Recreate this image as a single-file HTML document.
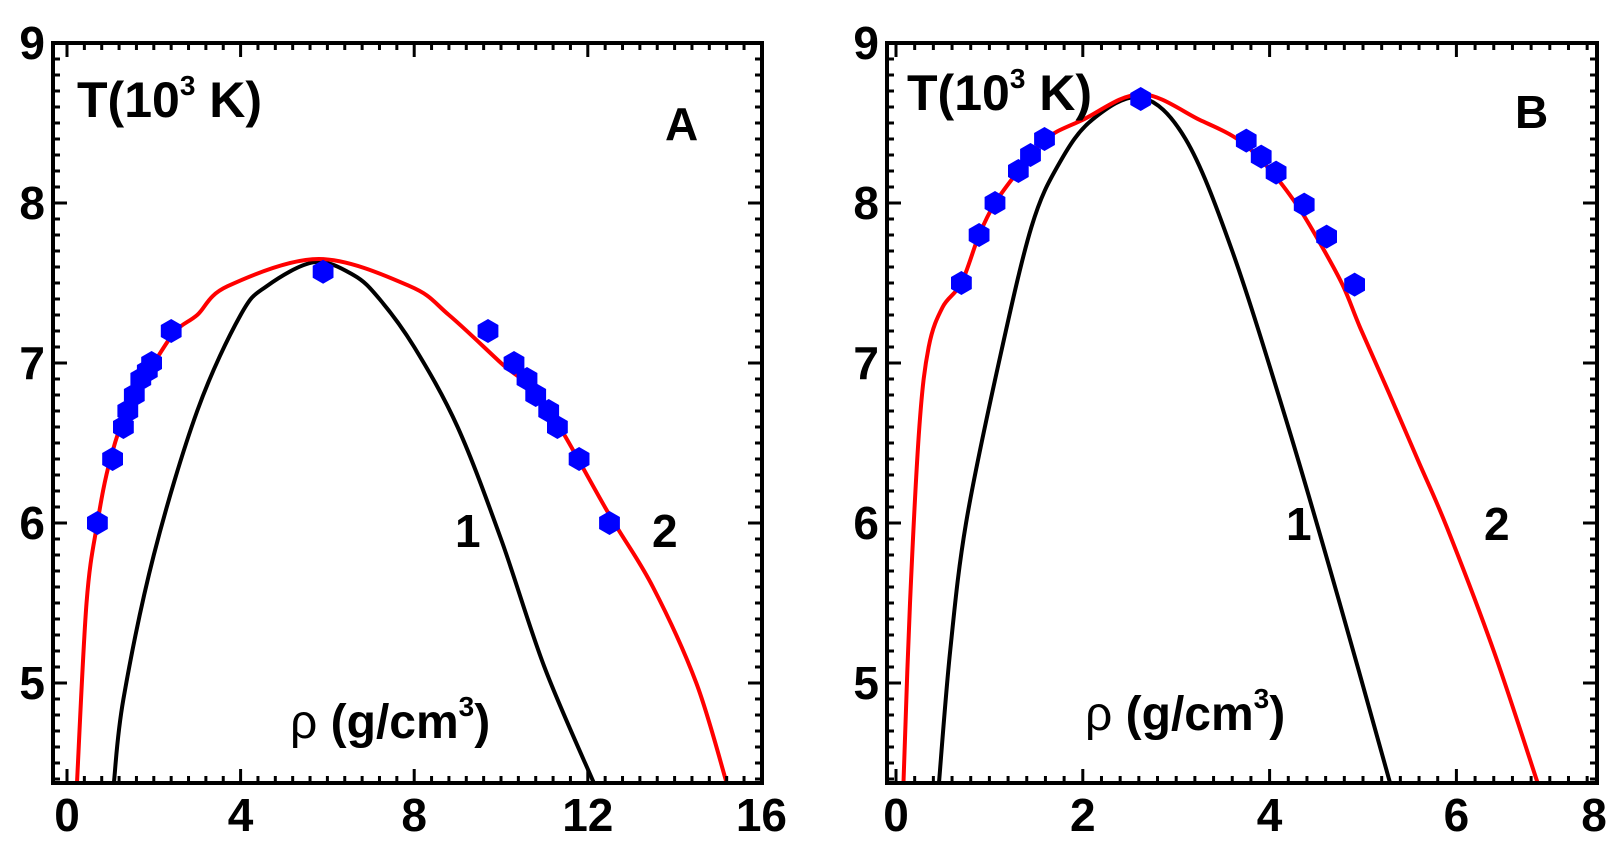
<!DOCTYPE html>
<html><head><meta charset="utf-8"><style>
html,body{margin:0;padding:0;background:#fff;}
svg{display:block;}
text{font-family:"Liberation Sans",Arial,sans-serif;font-weight:bold;fill:#000;}
</style></head><body>
<svg id="s" width="1622" height="854" viewBox="0 0 1622 854" xmlns="http://www.w3.org/2000/svg"></svg>
<script>
const S=document.getElementById('s');let h='';
function Y(v){return 43+(9-v)*160;}
function panel(x0,sc,fl,fr,xmax,minorStep,majorStep,labels,red,black,pts){
  const X=v=>x0+v*sc;
  function path(d){let p=d.map(q=>[X(q[0]),Y(q[1])]);let s='M'+p[0][0]+','+p[0][1];
    for(let i=0;i<p.length-1;i++){const a=p[Math.max(0,i-1)],b=p[i],c=p[i+1],e=p[Math.min(p.length-1,i+2)];
      s+=' C'+(b[0]+(c[0]-a[0])/6)+','+(b[1]+(c[1]-a[1])/6)+' '+(c[0]-(e[0]-b[0])/6)+','+(c[1]-(e[1]-b[1])/6)+' '+c[0]+','+c[1];}
    return s;}
  h+=`<clipPath id="c${x0}"><rect x="${fl}" y="43" width="${fr-fl}" height="740"/></clipPath>`;
  h+=`<g clip-path="url(#c${x0})"><path d="${path(black)}" fill="none" stroke="#000" stroke-width="4"/>`;
  h+=`<path d="${path(red)}" fill="none" stroke="#f00" stroke-width="4"/></g>`;
  for(const p of pts){const cx=X(p[0]),cy=Y(p[1]),r=12;let q=[];for(let k=0;k<6;k++){const a=Math.PI/3*k-Math.PI/2;q.push((cx+r*Math.cos(a)).toFixed(1)+','+(cy+r*Math.sin(a)).toFixed(1));}
    h+=`<polygon points="${q.join(' ')}" fill="#00f"/>`;}
  h+=`<rect x="${fl}" y="43" width="${fr-fl}" height="740" fill="none" stroke="#000" stroke-width="4"/>`;
  for(let v=-minorStep*Math.floor((x0-fl)/(sc*minorStep));v<=xmax+1e-6;v+=minorStep){const x=X(v);if(x<fl+2||x>fr-2)continue;
    const maj=Math.abs(v/majorStep-Math.round(v/majorStep))<1e-6;const L=maj?14:7;
    h+=`<line x1="${x}" y1="783" x2="${x}" y2="${783-L}" stroke="#000" stroke-width="3"/><line x1="${x}" y1="43" x2="${x}" y2="${43+L}" stroke="#000" stroke-width="3"/>`;}
  for(let v=4.4;v<9;v+=0.1){const y=Y(v);const maj=Math.abs(v-Math.round(v))<1e-6;const L=maj?14:7;
    h+=`<line x1="${fl}" y1="${y}" x2="${fl+L}" y2="${y}" stroke="#000" stroke-width="3"/><line x1="${fr}" y1="${y}" x2="${fr-L}" y2="${y}" stroke="#000" stroke-width="3"/>`;}
  for(const l of labels){h+=`<text x="${l[1]!==undefined?l[1]:X(l[0])}" y="831" font-size="46" text-anchor="middle">${l[0]}</text>`;}
  for(let v=5;v<=9;v++){h+=`<text x="${fl-8}" y="${Y(v)+16}" font-size="46" text-anchor="end">${v}</text>`;}
}
panel(67,43.4,53,762,16,0.4,4,[[0],[4],[8],[12],[16]],
 [[0.23,4.375],[0.45,5.5],[0.7,6],[1,6.4],[1.5,6.8],[2,7],[2.5,7.2],[3,7.3],[3.7,7.48],[5.8,7.65],[7.9,7.48],[8.8,7.3],[10,7],[11,6.75],[12.5,6.05],[13.5,5.6],[14.5,5],[15.2,4.375]],
 [[1.08,4.375],[1.3,4.9],[2,5.8],[3,6.7],[4,7.3],[4.6,7.48],[5.7,7.63],[6.6,7.55],[7.2,7.4],[8,7.1],[9,6.6],[10,5.9],[11,5.1],[12.14,4.375]],
 [[0.7,6],[1.05,6.4],[1.3,6.6],[1.4,6.7],[1.55,6.8],[1.7,6.9],[1.85,6.95],[1.95,7.0],[2.4,7.2],[5.9,7.57],[9.7,7.2],[10.3,7.0],[10.6,6.9],[10.8,6.8],[11.1,6.7],[11.3,6.6],[11.8,6.4],[12.5,6.0]]);
panel(896,93.4,887,1597,7.5,0.2,2,[[0],[2],[4],[6],[8,1594]],
 [[0.08,4.375],[0.15,5.5],[0.25,6.6],[0.35,7.1],[0.5,7.35],[0.7,7.5],[0.89,7.8],[1.06,8.0],[1.31,8.2],[1.6,8.4],[2.0,8.52],[2.62,8.68],[3.25,8.52],[3.68,8.39],[4.0,8.21],[4.29,7.99],[4.5,7.79],[4.78,7.49],[4.97,7.22],[5.28,6.81],[5.59,6.39],[5.9,5.97],[6.4,5.2],[6.87,4.375]],
 [[0.46,4.375],[0.58,5.2],[0.75,6],[1.1,7],[1.45,7.85],[1.75,8.25],[2.1,8.52],[2.62,8.66],[3.1,8.4],[3.6,7.7],[4.2,6.6],[4.75,5.5],[5.29,4.375]],
 [[0.7,7.5],[0.89,7.8],[1.06,8.0],[1.31,8.2],[1.44,8.3],[1.59,8.4],[2.62,8.65],[3.75,8.39],[3.91,8.29],[4.07,8.19],[4.37,7.99],[4.61,7.79],[4.91,7.49]]);
h+=`<text x="77" y="117" font-size="50">T(10<tspan font-size="28" dy="-22">3</tspan><tspan dy="22"> K)</tspan></text>`;
h+=`<text x="907" y="110" font-size="50">T(10<tspan font-size="28" dy="-22">3</tspan><tspan dy="22"> K)</tspan></text>`;
h+=`<text x="665" y="140" font-size="46">A</text><text x="1515" y="128" font-size="46">B</text>`;
h+=`<text x="455" y="547" font-size="46">1</text><text x="652" y="547" font-size="46">2</text>`;
h+=`<text x="1286" y="540" font-size="46">1</text><text x="1484" y="540" font-size="46">2</text>`;
h+=`<text x="290" y="738" font-size="48"><tspan font-weight="normal">ρ</tspan> (g/cm<tspan font-size="28" dy="-22">3</tspan><tspan dy="22">)</tspan></text>`;
h+=`<text x="1085" y="730" font-size="48"><tspan font-weight="normal">ρ</tspan> (g/cm<tspan font-size="28" dy="-22">3</tspan><tspan dy="22">)</tspan></text>`;
S.innerHTML=h;
</script>
</body></html>
